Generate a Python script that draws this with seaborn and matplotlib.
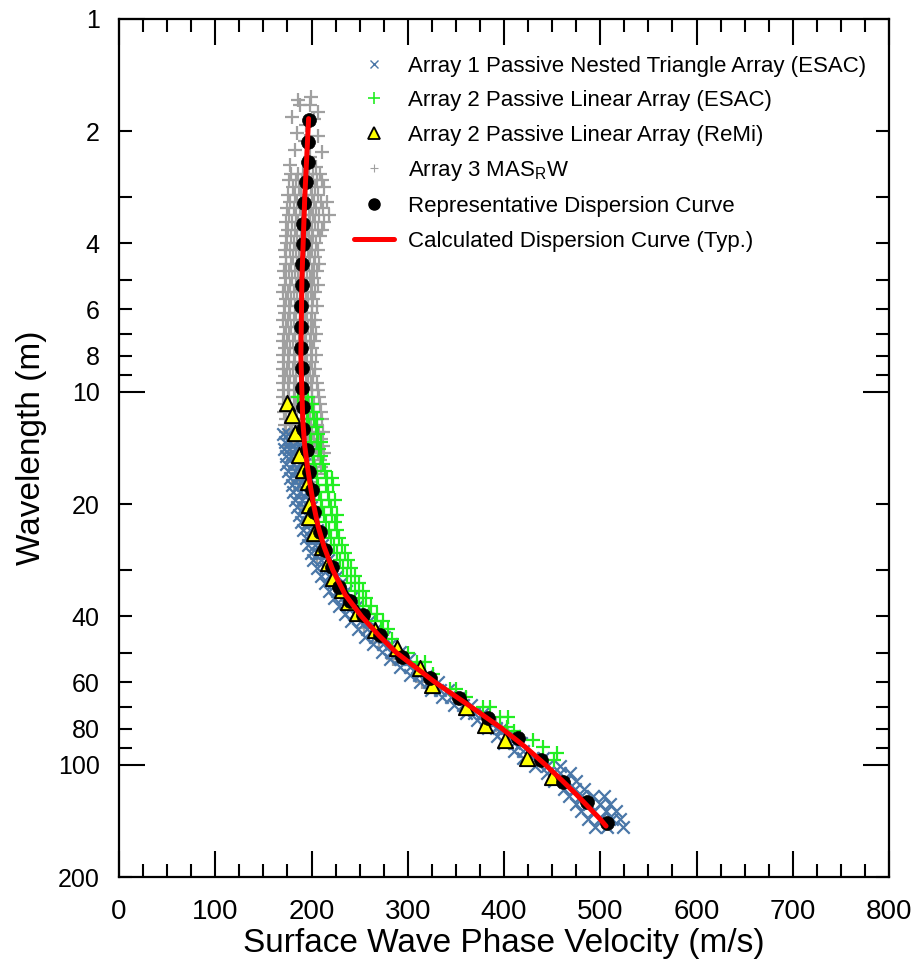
import numpy as np
import pandas as pd
import matplotlib
matplotlib.use("Agg")
import matplotlib.pyplot as plt
import seaborn as sns
from matplotlib.ticker import FixedLocator, FuncFormatter, MultipleLocator
from matplotlib.lines import Line2D

# ---------------- data ----------------
# Array 3 MASW (grey +): wavelength rows and velocities in each row
masw_top_wl = [1.62, 1.65, 1.70, 1.70, 1.78, 1.83, 1.86, 1.93, 2.02, 2.06, 2.12, 2.25, 2.27, 2.35, 2.46, 2.50]
masw_top_v = [199, 186, 188, 198, 207, 180, 203, 194, 185, 207, 193, 183, 211, 198, 178, 205]
masw_rows_wl = [2.60, 2.71, 2.83, 2.96, 3.09, 3.22, 3.36, 3.51, 3.67, 3.83, 4.00, 4.17, 4.36, 4.55,
                4.75, 4.96, 5.18, 5.41, 5.65, 5.90, 6.16, 6.43, 6.71, 7.00, 7.31, 7.63, 7.97, 8.32,
                8.69, 9.07, 9.47, 9.89, 10.3, 10.8, 11.3, 11.8, 12.3, 12.8, 13.4, 14.0, 14.6, 15.2,
                15.9, 16.6, 17.4, 18.2, 19.2, 20.5]
masw_rows_v = [
    [179, 186, 191, 197, 202, 209],
    [177, 184, 190, 195, 200, 206, 211],
    [181, 187, 193, 199, 204, 213],
    [176, 183, 189, 194, 201, 207],
    [178, 185, 190, 196, 203, 210, 216],
    [175, 182, 188, 193, 199, 205, 212],
    [177, 184, 190, 197, 202, 208, 218],
    [174, 180, 186, 192, 198, 204, 213],
    [176, 183, 189, 195, 200, 207, 211],
    [173, 179, 185, 191, 197, 202, 209],
    [175, 182, 188, 194, 199, 205],
    [172, 178, 184, 190, 196, 201, 207],
    [174, 181, 187, 193, 198, 204],
    [173, 179, 185, 191, 197, 203, 208],
    [171, 177, 183, 189, 195, 200, 206],
    [174, 180, 186, 192, 198, 203],
    [172, 178, 184, 190, 195, 201, 207],
    [170, 176, 182, 188, 194, 199, 204],
    [173, 179, 185, 191, 196, 202],
    [171, 177, 183, 189, 194, 200, 206],
    [172, 178, 184, 190, 195, 201],
    [170, 176, 182, 188, 193, 199, 204],
    [173, 179, 185, 190, 196, 202],
    [171, 177, 183, 188, 194, 199, 205],
    [170, 175, 181, 187, 193, 198, 203],
    [172, 178, 184, 190, 195, 201],
    [170, 176, 182, 188, 193, 199, 205],
    [171, 177, 183, 189, 195, 200],
    [170, 175, 181, 187, 192, 198, 204],
    [172, 178, 184, 190, 196, 202],
    [170, 176, 182, 188, 194, 199, 206],
    [171, 177, 183, 189, 195, 201, 207],
    [170, 176, 182, 188, 194, 200, 208],
    [172, 178, 184, 190, 197, 203, 209],
    [171, 177, 183, 189, 196, 202, 210],
    [173, 179, 185, 192, 198, 205, 211],
    [172, 178, 184, 191, 199, 206],
    [174, 180, 187, 194, 201, 208, 212],
    [175, 181, 188, 196, 203, 210],
    [177, 183, 190, 198, 205, 212],
    [179, 185, 192, 200, 207, 213],
    [181, 187, 194, 202, 209],
    [183, 189, 196, 204, 210],
    [185, 191, 198, 206],
    [186, 193, 201],
    [188, 195],
    [190, 197],
    [193],
]
masw_low_wl = [24.0, 28.0, 35.0, 43.0, 47.0, 52.0, 60.0, 78.0, 82.0]
masw_low_v = [200, 206, 232, 255, 270, 285, 315, 392, 404]

# Array 1 Passive Nested Triangle Array (ESAC) (blue x)
esac1_rows_wl = [13.0, 13.6, 14.2, 14.9, 15.6, 16.3, 17.0, 17.8, 18.6, 19.5, 20.4, 21.4, 22.4, 23.5,
                 24.6, 25.8, 27.0, 28.3, 29.7, 31.1, 32.6, 34.2, 35.8, 37.5, 39.3, 41.2, 43.2, 45.3,
                 47.5, 49.8, 52.2, 54.7, 57.3, 60.1, 63.0, 66.0, 69.2, 72.5, 76.0, 79.7, 83.5, 87.5,
                 91.7, 96.1, 100.7, 105.5, 110.6, 115.9, 121.5, 127.3, 133.4, 139.8, 146.5]
esac1_rows_v = [
    [170, 176], [172, 178, 185], [171, 177, 183, 189], [173, 179, 186], [174, 181, 188, 192],
    [176, 183, 190], [178, 185, 192], [180, 187, 194], [181, 188, 195], [183, 190, 197],
    [185, 192, 199], [187, 194, 201], [189, 196, 203], [191, 198, 206], [194, 201, 208],
    [196, 204, 211], [199, 207, 214], [202, 210, 217], [206, 214, 221], [210, 218, 226],
    [214, 222, 231], [218, 227, 236], [223, 232, 241], [229, 238, 247], [235, 244, 253],
    [241, 251, 260], [248, 258, 267], [256, 266, 275], [264, 274, 283], [273, 283, 292],
    [282, 292, 301], [292, 302, 310], [302, 312, 320], [313, 322, 331], [324, 333, 342],
    [336, 345, 354], [348, 357, 366], [360, 369, 378], [372, 381], [383, 392, 398],
    [393, 402, 410], [400, 410, 418], [410, 420], [420, 430, 440], [432, 445, 458],
    [445, 458, 469], [452, 463, 475], [462, 474, 483], [468, 480, 492, 504],
    [475, 488, 500, 510], [480, 493, 506, 516], [487, 500, 512, 520], [495, 507, 524],
]

# Array 2 Passive Linear Array (ESAC) (green +)
esac2_rows_wl = [10.3, 10.8, 11.3, 11.8, 12.4, 13.0, 13.6, 14.2, 14.9, 15.6, 16.3, 17.0, 17.8, 18.6,
                 19.5, 20.4, 21.4, 22.4, 23.5, 24.6, 25.8, 27.0, 28.3, 29.7, 31.1, 32.6, 34.2, 35.8,
                 37.5, 39.3, 41.2, 43.2, 46.0, 50.0, 53.0, 57.0, 62.5, 66.0, 70.0, 74.5, 79.0, 81.0,
                 85.7, 89.8, 93.0, 97.0]
esac2_rows_v = [
    [186, 196], [194, 200], [196, 202], [195, 203, 206], [197, 205], [198, 207], [199, 206, 210],
    [200, 208], [202, 210], [203, 212], [205, 214], [206, 216, 221], [207, 215, 222], [208, 217],
    [210, 218, 224], [211, 220], [213, 221, 227], [215, 224], [218, 226], [220, 229], [223, 232],
    [227, 235], [230, 238], [233, 241], [237, 245], [241, 249], [245, 253], [249, 257], [254, 262],
    [260, 268], [266, 274], [272, 279], [284], [300], [310, 318], [326], [344, 350], [360],
    [378, 385], [396, 404], [403], [410], [430], [441], [455], [452],
]

# Array 2 Passive Linear Array (ReMi) (yellow triangles)
remi_wl = [10.7, 11.5, 12.9, 14.8, 16.2, 17.5, 20.1, 21.6, 23.9, 26.0, 28.7, 31.5, 34.0, 36.6,
           39.1, 43.4, 48.6, 55.0, 61.1, 70.0, 78.1, 85.7, 95.8, 108.0]
remi_v = [175, 180, 183, 187, 191, 196, 197, 197, 203, 211, 217, 222, 232, 238,
          247, 266, 289, 313, 325, 361, 380, 401, 424, 450]

# Representative dispersion curve (black circles)
rep_wl = [1.87, 2.14, 2.42, 2.74, 3.11, 3.55, 4.01, 4.54, 5.16, 5.88, 6.69, 7.62, 8.62, 9.75,
          11.0, 12.6, 14.3, 16.4, 18.3, 21.0, 23.7, 26.5, 29.5, 33.3, 36.3, 39.6, 44.8, 51.3,
          58.4, 66.1, 74.8, 84.7, 97.0, 111.0, 126.0, 143.0]
rep_v = [197, 196, 196, 194, 192, 191, 191, 190, 190, 189, 189, 189, 190, 190,
         191, 191, 195, 197, 200, 203, 209, 214, 221, 229, 240, 254, 271, 294,
         323, 353, 383, 415, 438, 461, 486, 507]

# Calculated dispersion curve (red line)
calc_wl = [1.85, 3, 5, 8, 10, 12, 14, 16, 18, 20, 23, 26, 30, 35, 40, 45, 50, 60, 70, 80, 90,
           100, 110, 120, 130, 140, 146]
calc_v = [197, 193, 190, 189, 190, 191, 193, 196, 199, 202, 207, 213, 222, 235, 252, 270, 288,
          328, 366, 398, 423, 443, 460, 475, 488, 500, 506]

legend_labels = [
    "Array 1 Passive Nested Triangle Array (ESAC)",
    "Array 2 Passive Linear Array (ESAC)",
    "Array 2 Passive Linear Array (ReMi)",
    "Array 3 MAS$_\\mathregular{R}$W",
    "Representative Dispersion Curve",
    "Calculated Dispersion Curve (Typ.)",
]
x_label = "Surface Wave Phase Velocity (m/s)"
y_label = "Wavelength (m)"
y_tick_values = [1, 2, 4, 6, 8, 10, 20, 40, 60, 80, 100, 200]


def expand(wls, vls):
    xs, ys = [], []
    for w, vs in zip(wls, vls):
        for v in vs:
            xs.append(v)
            ys.append(w)
    return pd.DataFrame({"v": xs, "wl": ys})


masw = pd.concat([
    pd.DataFrame({"v": masw_top_v, "wl": masw_top_wl}),
    expand(masw_rows_wl, masw_rows_v),
    pd.DataFrame({"v": masw_low_v, "wl": masw_low_wl}),
], ignore_index=True)
esac1 = expand(esac1_rows_wl, esac1_rows_v)
esac2 = expand(esac2_rows_wl, esac2_rows_v)
remi = pd.DataFrame({"v": remi_v, "wl": remi_wl})
rep = pd.DataFrame({"v": rep_v, "wl": rep_wl})
calc = pd.DataFrame({"v": calc_v, "wl": calc_wl})

# ---------------- style ----------------
sns.set_theme(style="ticks")
plt.rcParams["font.family"] = ["Liberation Sans", "DejaVu Sans"]
plt.rcParams["mathtext.default"] = "regular"
plt.rcParams["text.color"] = "black"
plt.rcParams["axes.labelcolor"] = "black"
plt.rcParams["xtick.color"] = "black"
plt.rcParams["ytick.color"] = "black"

GREY = "#a0a0a0"
BLUE = "#4a77a8"
GREEN = "#22ee22"
YELLOW = "#ffff00"

fig = plt.figure(figsize=(9.18, 9.64), dpi=100)
ax = fig.add_axes([119 / 918, 1 - 877 / 964, 770 / 918, 858 / 964])

sns.scatterplot(data=masw, x="v", y="wl", marker="+", color=GREY, s=105, linewidth=1.6, ax=ax, zorder=2)
sns.scatterplot(data=esac1, x="v", y="wl", marker="x", color=BLUE, s=80, linewidth=1.6, ax=ax, zorder=3)
sns.scatterplot(data=esac2, x="v", y="wl", marker="+", color=GREEN, s=100, linewidth=1.6, ax=ax, zorder=3)
sns.scatterplot(data=remi, x="v", y="wl", marker="^", color=YELLOW, edgecolor="black", s=120,
                linewidth=1.4, ax=ax, zorder=4)
sns.scatterplot(data=rep, x="v", y="wl", marker="o", color="black", edgecolor="black", s=100,
                linewidth=0.5, ax=ax, zorder=5)
sns.lineplot(data=calc, x="v", y="wl", sort=False, estimator=None, color="red", linewidth=3.6,
             ax=ax, zorder=6)

ax.set_yscale("log")
ax.set_ylim(200, 1)
ax.set_xlim(0, 800)

ax.xaxis.set_major_locator(MultipleLocator(100))
ax.xaxis.set_minor_locator(MultipleLocator(25))
ax.yaxis.set_major_locator(FixedLocator([1, 10, 100]))
ax.yaxis.set_major_formatter(FuncFormatter(lambda v, p: f"{v:g}"))
ax.yaxis.set_minor_locator(FixedLocator([2, 3, 4, 5, 6, 7, 8, 9, 20, 30, 40, 50, 60, 70, 80, 90, 200]))
ax.yaxis.set_minor_formatter(FuncFormatter(lambda v, p: f"{v:g}" if round(v) in y_tick_values else ""))

ax.tick_params(which="both", direction="in", top=True, bottom=True, left=True, right=True,
               color="black", width=1.5, labelcolor="black")
ax.tick_params(which="major", length=18.7)
ax.tick_params(which="minor", length=9.4)
ax.tick_params(axis="x", which="both", labelsize=20, pad=16)
ax.tick_params(axis="y", which="both", labelsize=18, pad=14)

for sp in ax.spines.values():
    sp.set_visible(True)
    sp.set_color("black")
    sp.set_linewidth(1.6)

ax.set_xlabel(x_label, fontsize=24, labelpad=2)
ax.set_ylabel(y_label, fontsize=24, labelpad=8)

handles = [
    Line2D([], [], linestyle="none", marker="x", color=BLUE, markersize=6, markeredgewidth=1.0),
    Line2D([], [], linestyle="none", marker="+", color=GREEN, markersize=8, markeredgewidth=1.2),
    Line2D([], [], linestyle="none", marker="^", markerfacecolor=YELLOW, markeredgecolor="black",
           markersize=9, markeredgewidth=1.3),
    Line2D([], [], linestyle="none", marker="+", color=GREY, markersize=6, markeredgewidth=0.8),
    Line2D([], [], linestyle="none", marker="o", color="black", markersize=8),
    Line2D([], [], color="red", linewidth=3.6),
]
ax.legend(handles, legend_labels, loc="upper left", bbox_to_anchor=(0.305, 0.957), frameon=False,
          fontsize=16, handlelength=1.8, handletextpad=0.65, labelspacing=0.6, borderpad=0,
          borderaxespad=0, numpoints=1)

fig.savefig("out.png", dpi=100)
